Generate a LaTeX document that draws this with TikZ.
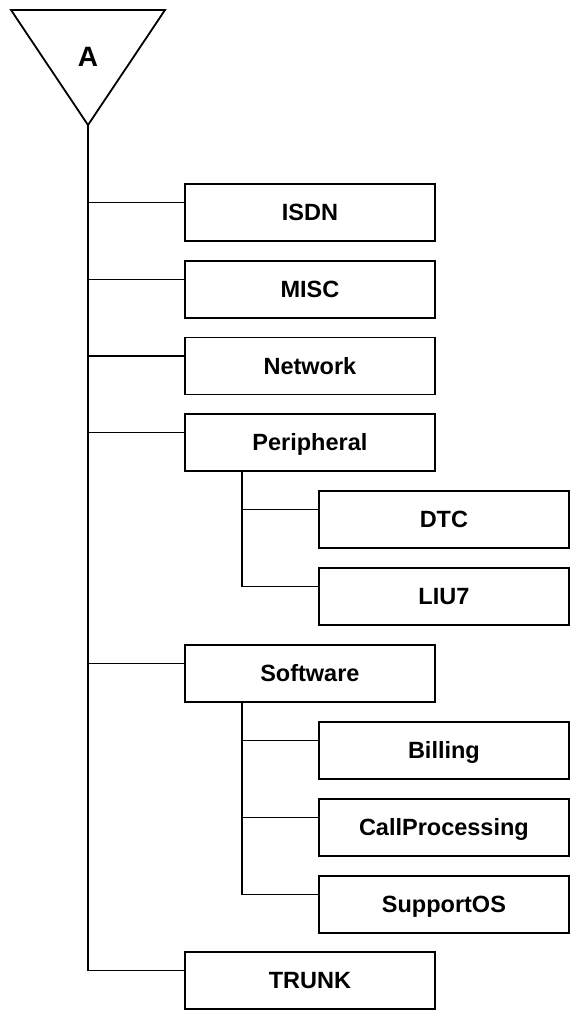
\documentclass[tikz,border=0pt]{standalone}
\usepackage{fontspec}
\setmainfont{Liberation Sans}
\usetikzlibrary{calc}
\begin{document}
\begin{tikzpicture}[x=1pt,y=-1pt,line width=1.8pt,
  box/.style={draw,anchor=north west,minimum width=250pt,minimum height=57pt,inner sep=0pt,
    font=\fontsize{23.5}{28}\selectfont\bfseries,text depth=0pt,text height=16.8pt},
  link/.style={draw,line width=1.8pt}]
\useasboundingbox (0,0) rectangle (573,1012);
% root triangle
\draw[line join=miter] (11,10) -- (165,10) -- (88,125) -- cycle;
\node[font=\fontsize{28}{32}\selectfont\bfseries] (root) at (88,57) {A};
\coordinate (apex) at (88,125);
% main boxes
\node[box] (isdn) at (184,183) {ISDN};
\node[box] (misc) at (184,260) {MISC};
\node[box] (net) at (184,336.5) {Network};
\node[box] (per) at (184,413) {Peripheral};
\node[box] (sw) at (184,644) {Software};
\node[box] (trunk) at (184,951) {TRUNK};
% sub boxes
\node[box] (dtc) at (318,490) {DTC};
\node[box] (liu) at (318,567) {LIU7};
\node[box] (bill) at (318,721) {Billing};
\node[box] (call) at (318,798) {CallProcessing};
\node[box] (sup) at (318,875) {SupportOS};
% attach points (one third down the left side)
\foreach \n in {isdn,misc,net,per,sw,trunk,dtc,liu,bill,call,sup}
  \coordinate (\n-in) at ($(\n.north west)!0.333!(\n.south west)$);
% trunk connectors
\draw[link] (apex) |- (trunk-in);
\foreach \n in {isdn,misc,net,per,sw}
  \draw[link] (apex |- \n-in) -- (\n-in);
% Peripheral children
\coordinate (perx) at ($(per.south west)+(58,0)$);
\draw[link] (perx) |- (liu-in);
\draw[link] (perx |- dtc-in) -- (dtc-in);
% Software children
\coordinate (swx) at ($(sw.south west)+(58,0)$);
\draw[link] (swx) |- (sup-in);
\draw[link] (swx |- bill-in) -- (bill-in);
\draw[link] (swx |- call-in) -- (call-in);
\end{tikzpicture}
\end{document}
